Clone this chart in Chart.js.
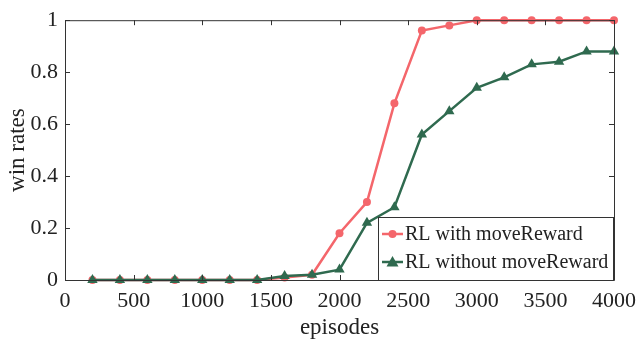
<!DOCTYPE html>
<html>
<head>
<meta charset="utf-8">
<script src="https://cdn.jsdelivr.net/npm/chart.js@4.4.1/dist/chart.umd.min.js"></script>
<style>
  html, body { margin: 0; padding: 0; background: #fff; }
  #wrap { width: 644px; height: 348px; }
</style>
</head>
<body>
<div id="wrap"><canvas id="winChart" width="644" height="348"></canvas></div>
<script>
var episodes = [200, 400, 600, 800, 1000, 1200, 1400, 1600, 1800, 2000,
                2200, 2400, 2600, 2800, 3000, 3200, 3400, 3600, 3800, 4000];
var withMoveReward = [0, 0, 0, 0, 0, 0, 0, 0.01, 0.02, 0.18,
                      0.30, 0.68, 0.96, 0.98, 1, 1, 1, 1, 1, 1];
var withoutMoveReward = [0, 0, 0, 0, 0, 0, 0, 0.015, 0.02, 0.04,
                         0.22, 0.28, 0.56, 0.65, 0.74, 0.78, 0.83, 0.84, 0.88, 0.88];
var seriesNames = ['RL with moveReward', 'RL without moveReward'];
var xTicks = [0, 500, 1000, 1500, 2000, 2500, 3000, 3500, 4000];
var yTicks = [0, 0.2, 0.4, 0.6, 0.8, 1];

var red = '#f4666b';
var green = '#2f6a4f';
var axisColor = '#333';
var serif = "'Liberation Serif', 'Times New Roman', serif";

function toPoints(ys) {
  var pts = [];
  for (var i in episodes) {
    pts.push({ x: episodes[i], y: ys[i] });
  }
  return pts;
}

// box around the plot with inward ticks on all sides
var boxPlugin = {
  id: 'boxTicks',
  afterDatasetsDraw: function(chart) {
    var ctx = chart.ctx;
    var a = chart.chartArea;
    var xs = chart.scales.x, ys = chart.scales.y;
    var len = 5;
    ctx.save();
    ctx.strokeStyle = axisColor;
    ctx.lineWidth = 1;
    ctx.beginPath();
    ctx.rect(a.left + 0.5, a.top + 0.5, a.right - a.left, a.bottom - a.top);
    xTicks.forEach(function(v) {
      var px = Math.round(xs.getPixelForValue(v)) + 0.5;
      ctx.moveTo(px, a.bottom); ctx.lineTo(px, a.bottom - len);
      ctx.moveTo(px, a.top); ctx.lineTo(px, a.top + len);
    });
    yTicks.forEach(function(v) {
      var py = Math.round(ys.getPixelForValue(v)) + 0.5;
      ctx.moveTo(a.left, py); ctx.lineTo(a.left + len, py);
      ctx.moveTo(a.right, py); ctx.lineTo(a.right - len, py);
    });
    ctx.stroke();
    ctx.restore();
  },
  afterDraw: function(chart) {
    // legend inside the plot, lower right
    var ctx = chart.ctx;
    var a = chart.chartArea;
    var bx = a.left + 313, by = a.bottom - 63, bw = a.right - bx, bh = 63;
    ctx.save();
    ctx.fillStyle = '#fff';
    ctx.fillRect(bx, by, bw, bh);
    ctx.strokeStyle = axisColor;
    ctx.lineWidth = 1;
    ctx.strokeRect(bx + 0.5, by + 0.5, bw - 1, bh);
    ctx.font = '20px ' + serif;
    ctx.textBaseline = 'middle';
    chart.data.datasets.forEach(function(ds, i) {
      var cy = by + 17 + i * 28;
      ctx.strokeStyle = ds.borderColor;
      ctx.lineWidth = 2.5;
      ctx.beginPath();
      ctx.moveTo(bx + 4, cy); ctx.lineTo(bx + 25, cy);
      ctx.stroke();
      ctx.fillStyle = ds.borderColor;
      ctx.beginPath();
      if (ds.pointStyle === 'triangle') {
        ctx.moveTo(bx + 14.5, cy - 6);
        ctx.lineTo(bx + 20.5, cy + 4.5);
        ctx.lineTo(bx + 8.5, cy + 4.5);
        ctx.closePath();
      } else {
        ctx.arc(bx + 14.5, cy, 4, 0, Math.PI * 2);
      }
      ctx.fill();
      ctx.fillStyle = '#222';
      ctx.fillText(ds.label, bx + 27, cy + 1);
    });
    ctx.restore();
  }
};

var ctx = document.getElementById('winChart');
var winChart = new Chart(ctx, {
  type: 'line',
  data: {
    datasets: [
      {
        label: seriesNames[0],
        data: toPoints(withMoveReward),
        borderColor: red,
        backgroundColor: red,
        borderWidth: 2.5,
        pointStyle: 'circle',
        pointRadius: 4,
        pointBorderWidth: 0,
        clip: false,
        order: 1
      },
      {
        label: seriesNames[1],
        data: toPoints(withoutMoveReward),
        borderColor: green,
        backgroundColor: green,
        borderWidth: 2.5,
        pointStyle: 'triangle',
        pointRadius: 6,
        pointBorderWidth: 0,
        clip: false,
        order: 0
      }
    ]
  },
  options: {
    responsive: false,
    animation: false,
    layout: { padding: { top: 19, right: 28, left: 0, bottom: 0 } },
    plugins: {
      legend: { display: false },
      tooltip: { enabled: false }
    },
    scales: {
      x: {
        type: 'linear',
        min: 0,
        max: 4000,
        grid: { display: false, drawTicks: false },
        border: { display: false },
        afterBuildTicks: function(scale) {
          scale.ticks = xTicks.map(function(v) { return { value: v }; });
        },
        afterFit: function(scale) { scale.height = 68; },
        ticks: {
          color: '#222',
          padding: 8,
          maxRotation: 0,
          font: { family: serif, size: 22 },
          callback: function(v) { return String(v); }
        },
        title: {
          display: true,
          text: 'episodes',
          color: '#222',
          padding: { top: 0, bottom: 6 },
          font: { family: serif, size: 23 }
        }
      },
      y: {
        min: 0,
        max: 1,
        grid: { display: false, drawTicks: false },
        border: { display: false },
        afterBuildTicks: function(scale) {
          scale.ticks = yTicks.map(function(v) { return { value: v }; });
        },
        afterFit: function(scale) { scale.width = 65; },
        ticks: {
          color: '#222',
          padding: 7,
          font: { family: serif, size: 22 },
          callback: function(v) { return String(Math.round(v * 10) / 10); }
        },
        title: {
          display: true,
          text: 'win rates',
          color: '#222',
          padding: { top: 4, bottom: 0 },
          font: { family: serif, size: 23 }
        }
      }
    }
  },
  plugins: [boxPlugin]
});
</script>
</body>
</html>
